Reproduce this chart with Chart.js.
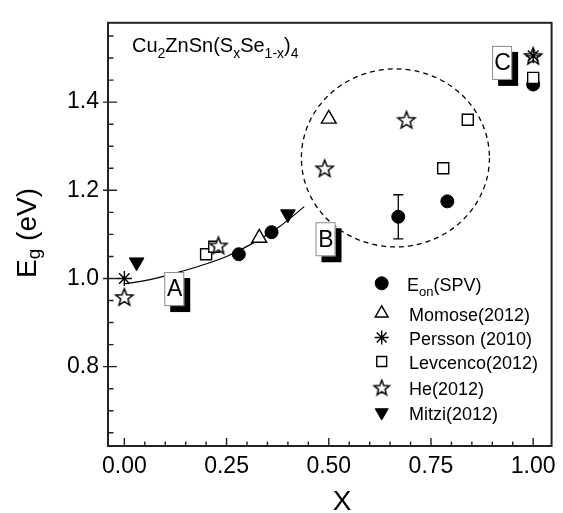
<!DOCTYPE html>
<html>
<head>
<meta charset="utf-8">
<title>Band gap vs x</title>
<script src="https://cdn.jsdelivr.net/npm/chart.js@4.4.1/dist/chart.umd.min.js"></script>
<style>
  html, body { margin: 0; padding: 0; background: #fff; }
  #wrap { width: 563px; height: 513px; }
</style>
</head>
<body>
<div id="wrap"><canvas id="bandgap" width="563" height="513"></canvas></div>
<script>
// Band gap of Cu2ZnSn(SxSe1-x)4 against sulfur content x
const eonX = [0.28, 0.36, 0.67, 0.79, 1.00];
const eonY = [1.055, 1.105, 1.14, 1.175, 1.44];
const eonErr = [0, 0, 0.05, 0, 0];
const momoseX = [0.33, 0.50];
const momoseY = [1.092, 1.362];
const perssonX = [0.00, 1.00];
const perssonY = [1.00, 1.505];
const levcencoX = [0.20, 0.22, 0.78, 0.84, 1.00];
const levcencoY = [1.055, 1.072, 1.25, 1.36, 1.455];
const heX = [0.00, 0.23, 0.49, 0.69, 1.00];
const heY = [0.958, 1.075, 1.25, 1.36, 1.505];
const mitziX = [0.03, 0.40];
const mitziY = [1.037, 1.146];
// fitted curve
const fitX = [0.00, 0.06, 0.14, 0.25, 0.32, 0.38, 0.44];
const fitY = [0.988, 0.997, 1.016, 1.05, 1.083, 1.118, 1.163];

const xTicks = [0, 0.25, 0.5, 0.75, 1.0];
const xMinor = [0.05, 0.10, 0.15, 0.20, 0.30, 0.35, 0.40, 0.45, 0.55, 0.60, 0.65, 0.70, 0.80, 0.85, 0.90, 0.95];
const yTicks = [0.8, 1.0, 1.2, 1.4];
const yMinor = [0.65, 0.70, 0.75, 0.85, 0.90, 0.95, 1.05, 1.10, 1.15, 1.25, 1.30, 1.35, 1.45, 1.50, 1.55];

const regionNames = ['A', 'B', 'C'];
const regionX = [0.122, 0.492, 0.924];
const regionY = [0.976, 1.089, 1.489];

const legendNames = ['E_on(SPV)', 'Momose(2012)', 'Persson (2010)', 'Levcenco(2012)', 'He(2012)', 'Mitzi(2012)'];

const FONT = "Arial, 'Liberation Sans', sans-serif";
const INK = '#000';

function pts(xs, ys) { return xs.map((x, i) => ({ x, y: ys[i] })); }

function makeStar(r) {
  const size = Math.ceil(r * 2 + 4);
  const c = document.createElement('canvas');
  c.width = size; c.height = size;
  const g = c.getContext('2d');
  const cx = size / 2, cy = size / 2 + 0.8;
  g.beginPath();
  for (let i = 0; i < 10; i++) {
    const rad = i % 2 === 0 ? r : r * 0.43;
    const a = -Math.PI / 2 + i * Math.PI / 5;
    g.lineTo(cx + rad * Math.cos(a), cy + rad * Math.sin(a));
  }
  g.closePath();
  g.fillStyle = '#fff'; g.fill();
  g.lineWidth = 1.5; g.strokeStyle = INK; g.stroke();
  return c;
}
const starImg = makeStar(9);
const starLegend = makeStar(8);

// draw a run of text pieces [text, size, dy], returns width
function drawRich(ctx, parts, x, y, measureOnly) {
  let cx = x;
  parts.forEach(([t, size, dy]) => {
    ctx.font = size + 'px ' + FONT;
    if (!measureOnly) ctx.fillText(t, cx, y + dy);
    cx += ctx.measureText(t).width;
  });
  return cx - x;
}

const decorations = {
  id: 'decorations',
  beforeDatasetsDraw(chart) {
    const { ctx, scales: { x, y } } = chart;
    ctx.save();
    // dashed circle around the x > 0.5 data
    const cx = x.getPixelForValue(0.663), cy = y.getPixelForValue(1.2735);
    const rx = x.getPixelForValue(0.663 + 0.23) - cx;
    const ry = cy - y.getPixelForValue(1.2735 + 0.202);
    ctx.setLineDash([5, 4]);
    ctx.lineWidth = 1.3;
    ctx.strokeStyle = INK;
    ctx.beginPath();
    ctx.ellipse(cx, cy, rx, ry, 0, 0, Math.PI * 2);
    ctx.stroke();
    ctx.setLineDash([]);
    // error bars
    ctx.lineWidth = 1.3;
    eonX.forEach((v, i) => {
      const e = eonErr[i];
      if (!e) return;
      const px = x.getPixelForValue(v);
      const top = y.getPixelForValue(eonY[i] + e), bot = y.getPixelForValue(eonY[i] - e);
      ctx.beginPath();
      ctx.moveTo(px, top); ctx.lineTo(px, bot);
      ctx.moveTo(px - 5, top); ctx.lineTo(px + 5, top);
      ctx.moveTo(px - 5, bot); ctx.lineTo(px + 5, bot);
      ctx.stroke();
    });
    ctx.restore();
  },
  afterDatasetsDraw(chart) {
    const { ctx, scales: { x, y } } = chart;
    ctx.save();
    // labelled boxes with drop shadow
    regionNames.forEach((name, i) => {
      const px = x.getPixelForValue(regionX[i]), py = y.getPixelForValue(regionY[i]);
      const w = 20, h = 34;
      ctx.fillStyle = '#000';
      ctx.fillRect(px - w / 2 + 6, py - h / 2 + 6, w, h);
      ctx.fillStyle = '#fff';
      ctx.fillRect(px - w / 2, py - h / 2, w, h);
      ctx.strokeStyle = '#888';
      ctx.lineWidth = 1;
      ctx.strokeRect(px - w / 2 + 0.5, py - h / 2 + 0.5, w - 1, h - 1);
      ctx.fillStyle = INK;
      ctx.font = '23px ' + FONT;
      ctx.textAlign = 'center';
      ctx.textBaseline = 'middle';
      ctx.fillText(name, px + 0.5, py + 1);
    });
    ctx.restore();
  },
  afterDraw(chart) {
    const { ctx, chartArea: a, scales: { x, y } } = chart;
    ctx.save();
    // frame
    ctx.strokeStyle = '#222';
    ctx.lineWidth = 2;
    ctx.strokeRect(a.left, a.top, a.right - a.left, a.bottom - a.top);
    // inward ticks
    ctx.lineWidth = 1.4;
    ctx.beginPath();
    xTicks.forEach(v => { const p = x.getPixelForValue(v); ctx.moveTo(p, a.bottom); ctx.lineTo(p, a.bottom - 8); });
    xMinor.forEach(v => { const p = x.getPixelForValue(v); ctx.moveTo(p, a.bottom); ctx.lineTo(p, a.bottom - 4.5); });
    yTicks.forEach(v => { const p = y.getPixelForValue(v); ctx.moveTo(a.left - 5, p); ctx.lineTo(a.left + 9, p); });
    yMinor.forEach(v => { const p = y.getPixelForValue(v); ctx.moveTo(a.left, p); ctx.lineTo(a.left + 5.5, p); });
    ctx.stroke();

    ctx.fillStyle = INK;
    ctx.textAlign = 'left';
    ctx.textBaseline = 'alphabetic';
    // compound formula
    drawRich(ctx, [['Cu', 20, 0], ['2', 14, 6], ['ZnSn(S', 20, 0], ['x', 14, 6], ['Se', 20, 0], ['1-x', 14, 6], [')', 20, 0], ['4', 14, 6]], 132, 51.5);

    // axis titles
    ctx.font = '28px ' + FONT;
    ctx.textAlign = 'center';
    ctx.fillText('X', 342, 510);
    ctx.textAlign = 'left';
    const yParts = [['E', 28, 0], ['g', 19, 4], [' (eV)', 28, 0]];
    const tw = drawRich(ctx, yParts, 0, 0, true);
    ctx.translate(36, 233);
    ctx.rotate(-Math.PI / 2);
    drawRich(ctx, yParts, -tw / 2, 0);
    ctx.setTransform(1, 0, 0, 1, 0, 0);

    // legend
    const rows = [283.3, 313.3, 337.5, 361.5, 387.5, 412.5];
    const sets = chart.data.datasets;
    legendNames.forEach((name, i) => {
      const ds = sets[i];
      const my = rows[i];
      ctx.save();
      ctx.fillStyle = ds.backgroundColor;
      ctx.strokeStyle = ds.borderColor;
      ctx.lineWidth = ds.borderWidth;
      const style = ds.pointStyle === starImg ? starLegend : ds.pointStyle;
      Chart.helpers.drawPoint(ctx, {
        pointStyle: style,
        radius: ds.legendRadius,
        rotation: ds.rotation || 0,
        borderWidth: ds.borderWidth
      }, 381.7, my);
      ctx.restore();
      ctx.fillStyle = INK;
      ctx.textAlign = 'left';
      if (name.startsWith('E_on')) {
        drawRich(ctx, [['E', 18, 0], ['on', 13, 5], ['(SPV)', 18, 0]], 407, my + 7.5);
      } else {
        ctx.font = '18px ' + FONT;
        ctx.fillText(name, 409, my + 7.5);
      }
    });
    ctx.restore();
  }
};

function init() {
  const ctx = document.getElementById('bandgap').getContext('2d');
  new Chart(ctx, {
    type: 'scatter',
    data: {
      datasets: [
        { label: 'Eon(SPV)', data: pts(eonX, eonY), pointStyle: 'circle', pointRadius: 6.5, legendRadius: 6.5,
          backgroundColor: INK, borderColor: INK, borderWidth: 1, order: 3 },
        { label: 'Momose(2012)', data: pts(momoseX, momoseY), pointStyle: 'triangle', pointRadius: 8.5, legendRadius: 7.5,
          backgroundColor: '#fff', borderColor: INK, borderWidth: 1.4, order: 2 },
        { label: 'Persson (2010)', data: pts(perssonX, perssonY), pointStyle: 'star', pointRadius: 7.5, legendRadius: 7,
          backgroundColor: INK, borderColor: INK, borderWidth: 1.4, order: 0 },
        { label: 'Levcenco(2012)', data: pts(levcencoX, levcencoY), pointStyle: 'rect', pointRadius: 7.8, legendRadius: 7,
          backgroundColor: '#fff', borderColor: INK, borderWidth: 1.4, order: 2 },
        { label: 'He(2012)', data: pts(heX, heY), pointStyle: starImg, pointRadius: 9, legendRadius: 8,
          backgroundColor: '#fff', borderColor: INK, borderWidth: 1.4, order: 1 },
        { label: 'Mitzi(2012)', data: pts(mitziX, mitziY), pointStyle: 'triangle', rotation: 180, pointRotation: 180,
          pointRadius: 8.5, legendRadius: 7.5, backgroundColor: INK, borderColor: INK, borderWidth: 1, order: 2 },
        { label: 'fit', data: pts(fitX, fitY), showLine: true, pointRadius: 0, borderColor: INK, borderWidth: 1.2,
          cubicInterpolationMode: 'monotone', fill: false, order: 9 }
      ]
    },
    options: {
      responsive: false,
      animation: false,
      events: [],
      layout: { padding: { top: 12, right: 4, left: 0, bottom: 0 } },
      plugins: { legend: { display: false }, tooltip: { enabled: false } },
      scales: {
        x: {
          type: 'linear', min: -0.04, max: 1.045,
          grid: { display: false, drawTicks: false },
          border: { display: false },
          afterFit: s => { s.height = 67; },
          afterBuildTicks: s => { s.ticks = xTicks.map(v => ({ value: v })); },
          ticks: { color: INK, font: { size: 23, family: FONT }, padding: 7, maxRotation: 0,
                   callback: v => Number(v).toFixed(2) }
        },
        y: {
          type: 'linear', min: 0.62, max: 1.58,
          grid: { display: false, drawTicks: false },
          border: { display: false },
          afterFit: s => { s.width = 108; },
          afterBuildTicks: s => { s.ticks = yTicks.map(v => ({ value: v })); },
          ticks: { color: INK, font: { size: 23, family: FONT }, padding: 9,
                   callback: v => Number(v).toFixed(1) }
        }
      }
    },
    plugins: [decorations]
  });
}
document.addEventListener('DOMContentLoaded', init);
</script>
</body>
</html>
